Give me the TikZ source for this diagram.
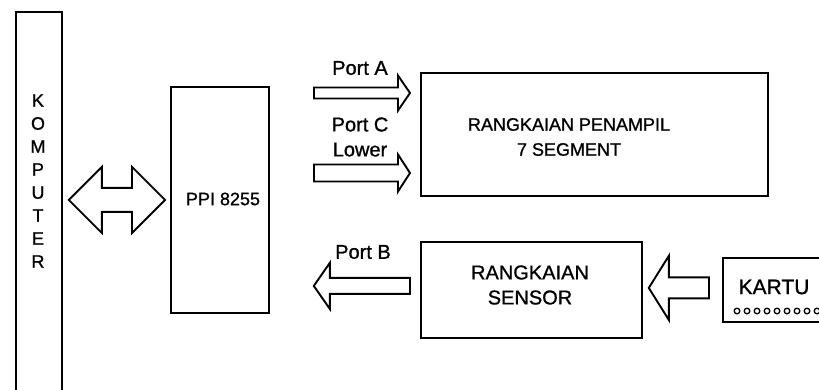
\documentclass[tikz,border=0pt]{standalone}
\usepackage{fontspec}
\setmainfont{Liberation Sans}[FakeBold=1]
\usetikzlibrary{calc}
\newcommand{\blockarr}[5]{%
  \draw[barrow] let \p1=(#1), \p2=(#2), \n1={sign(\x2-\x1)} in
    (\x1,\y2+#3pt) -- (\x2-\n1*#5pt,\y2+#3pt) -- (\x2-\n1*#5pt,\y2+#4pt) -- (\x2,\y2)
    -- (\x2-\n1*#5pt,\y2-#4pt) -- (\x2-\n1*#5pt,\y2-#3pt) -- (\x1,\y2-#3pt) -- cycle;}
\begin{document}
\begin{tikzpicture}[x=1pt,y=-1pt,
  box/.style={draw, line width=1.8pt, inner sep=0pt, anchor=north west},
  lbl/.style={font=\fontsize{18}{25}\selectfont, align=center, inner sep=0pt},
  plbl/.style={font=\fontsize{20}{25}\selectfont, align=center, inner sep=0pt},
  barrow/.style={draw, line width=1.9pt, fill=white, line join=miter}]
\path[use as bounding box, clip] (0,0) rectangle (819,389);
\fill[white] (0,0) rectangle (819,389);
% boxes
\node[box, minimum width=46pt, minimum height=400pt] (komp) at (15,11) {};
\node[box, minimum width=98pt, minimum height=226pt] (ppi) at (170,86) {};
\node[box, minimum width=347pt, minimum height=123pt] (pen) at (420,72) {};
\node[box, minimum width=221pt, minimum height=96pt] (sens) at (420,241) {};
\node[box, minimum width=120pt, minimum height=64pt] (kartu) at (722,257) {};
% texts
\node[lbl, font=\fontsize{18}{23}\selectfont] (kompt) at (38,181) {K\\O\\M\\P\\U\\T\\E\\R};
\node[lbl] (ppit) at (223,199) {PPI 8255};
\node[lbl] (pent) at (569,137) {RANGKAIAN PENAMPIL\\7 SEGMENT};
\node[lbl, font=\fontsize{20}{25}\selectfont] (senst) at (530,285) {RANGKAIAN\\SENSOR};
\node[lbl, font=\fontsize{21}{25}\selectfont] (kartut) at (774,287) {KARTU};
\node[plbl] (pa) at (360,68) {Port A};
\node[plbl] (pc) at (360,137) {Port C\\Lower};
\node[plbl] (pb) at (363,252) {Port B};
% dots on the card
\foreach \i in {0,...,8} \draw[line width=1.3pt] (737+\i*10,311) circle[radius=2.8pt];
% connector coordinates
\coordinate (dl) at ($(komp.east |- ppi.west)+(6,0)$);
\coordinate (dr) at ($(ppi.west)+(-5,0)$);
\coordinate (paT) at (314,93);
\coordinate (paH) at ($(pen.west |- paT)+(-10,0)$);
\coordinate (pcT) at (314,173);
\coordinate (pcH) at ($(pen.west |- pcT)+(-10,0)$);
\coordinate (pbT) at ($(sens.west)+(-10,-4)$);
\coordinate (pbH) at ($(ppi.east |- pbT)+(44,0)$);
\coordinate (kaT) at ($(kartu.west)+(-13,-2)$);
\coordinate (kaH) at ($(sens.east |- kaT)+(6,0)$);
% double arrow computer <-> PPI
\draw[barrow] let \p1=(dl), \p2=(dr) in
  (\x1,\y1) -- (\x1+33pt,\y1+33pt) -- (\x1+33pt,\y1+12pt) -- (\x2-33pt,\y1+12pt)
  -- (\x2-33pt,\y1+33pt) -- (\x2,\y1) -- (\x2-33pt,\y1-33pt) -- (\x2-33pt,\y1-12pt)
  -- (\x1+33pt,\y1-12pt) -- (\x1+33pt,\y1-33pt) -- cycle;
\blockarr{paT}{paH}{5.5}{17.5}{12}
\blockarr{pcT}{pcH}{8.5}{18.5}{12}
\blockarr{pbT}{pbH}{8}{23}{16}
\blockarr{kaT}{kaH}{10.5}{32}{20}
\end{tikzpicture}
\end{document}
